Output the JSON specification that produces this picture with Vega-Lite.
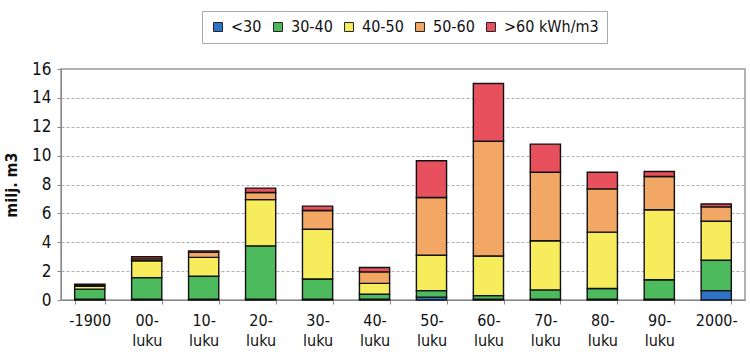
{
  "$schema": "https://vega.github.io/schema/vega-lite/v6.json",
  "autosize": {"type": "none"},
  "width": 684,
  "height": 231,
  "padding": {"left": 61, "top": 69, "right": 5, "bottom": 62},
  "background": "white",
  "config": {
    "font": "DejaVu Sans Condensed",
    "view": {"stroke": "#999999", "strokeWidth": 1.5}
  },
  "data": {
    "values": [
      {"c": "-1900", "k": 0, "cls": "<30", "v": 0.05},
      {"c": "-1900", "k": 1, "cls": "30-40", "v": 0.7},
      {"c": "-1900", "k": 2, "cls": "40-50", "v": 0.2},
      {"c": "-1900", "k": 3, "cls": "50-60", "v": 0.1},
      {"c": "-1900", "k": 4, "cls": ">60 kWh/m3", "v": 0.05},
      {"c": "00-\nluku", "k": 0, "cls": "<30", "v": 0.05},
      {"c": "00-\nluku", "k": 1, "cls": "30-40", "v": 1.5},
      {"c": "00-\nluku", "k": 2, "cls": "40-50", "v": 1.17},
      {"c": "00-\nluku", "k": 3, "cls": "50-60", "v": 0.13},
      {"c": "00-\nluku", "k": 4, "cls": ">60 kWh/m3", "v": 0.15},
      {"c": "10-\nluku", "k": 0, "cls": "<30", "v": 0.05},
      {"c": "10-\nluku", "k": 1, "cls": "30-40", "v": 1.6},
      {"c": "10-\nluku", "k": 2, "cls": "40-50", "v": 1.3},
      {"c": "10-\nluku", "k": 3, "cls": "50-60", "v": 0.35},
      {"c": "10-\nluku", "k": 4, "cls": ">60 kWh/m3", "v": 0.1},
      {"c": "20-\nluku", "k": 0, "cls": "<30", "v": 0.05},
      {"c": "20-\nluku", "k": 1, "cls": "30-40", "v": 3.7},
      {"c": "20-\nluku", "k": 2, "cls": "40-50", "v": 3.2},
      {"c": "20-\nluku", "k": 3, "cls": "50-60", "v": 0.5},
      {"c": "20-\nluku", "k": 4, "cls": ">60 kWh/m3", "v": 0.3},
      {"c": "30-\nluku", "k": 0, "cls": "<30", "v": 0.05},
      {"c": "30-\nluku", "k": 1, "cls": "30-40", "v": 1.4},
      {"c": "30-\nluku", "k": 2, "cls": "40-50", "v": 3.45},
      {"c": "30-\nluku", "k": 3, "cls": "50-60", "v": 1.3},
      {"c": "30-\nluku", "k": 4, "cls": ">60 kWh/m3", "v": 0.3},
      {"c": "40-\nluku", "k": 0, "cls": "<30", "v": 0.05},
      {"c": "40-\nluku", "k": 1, "cls": "30-40", "v": 0.35},
      {"c": "40-\nluku", "k": 2, "cls": "40-50", "v": 0.75},
      {"c": "40-\nluku", "k": 3, "cls": "50-60", "v": 0.8},
      {"c": "40-\nluku", "k": 4, "cls": ">60 kWh/m3", "v": 0.3},
      {"c": "50-\nluku", "k": 0, "cls": "<30", "v": 0.2},
      {"c": "50-\nluku", "k": 1, "cls": "30-40", "v": 0.45},
      {"c": "50-\nluku", "k": 2, "cls": "40-50", "v": 2.45},
      {"c": "50-\nluku", "k": 3, "cls": "50-60", "v": 4.0},
      {"c": "50-\nluku", "k": 4, "cls": ">60 kWh/m3", "v": 2.55},
      {"c": "60-\nluku", "k": 0, "cls": "<30", "v": 0.05},
      {"c": "60-\nluku", "k": 1, "cls": "30-40", "v": 0.25},
      {"c": "60-\nluku", "k": 2, "cls": "40-50", "v": 2.75},
      {"c": "60-\nluku", "k": 3, "cls": "50-60", "v": 7.95},
      {"c": "60-\nluku", "k": 4, "cls": ">60 kWh/m3", "v": 4.0},
      {"c": "70-\nluku", "k": 0, "cls": "<30", "v": 0.05},
      {"c": "70-\nluku", "k": 1, "cls": "30-40", "v": 0.65},
      {"c": "70-\nluku", "k": 2, "cls": "40-50", "v": 3.4},
      {"c": "70-\nluku", "k": 3, "cls": "50-60", "v": 4.75},
      {"c": "70-\nluku", "k": 4, "cls": ">60 kWh/m3", "v": 1.95},
      {"c": "80-\nluku", "k": 0, "cls": "<30", "v": 0.05},
      {"c": "80-\nluku", "k": 1, "cls": "30-40", "v": 0.75},
      {"c": "80-\nluku", "k": 2, "cls": "40-50", "v": 3.9},
      {"c": "80-\nluku", "k": 3, "cls": "50-60", "v": 3.0},
      {"c": "80-\nluku", "k": 4, "cls": ">60 kWh/m3", "v": 1.15},
      {"c": "90-\nluku", "k": 0, "cls": "<30", "v": 0.05},
      {"c": "90-\nluku", "k": 1, "cls": "30-40", "v": 1.35},
      {"c": "90-\nluku", "k": 2, "cls": "40-50", "v": 4.85},
      {"c": "90-\nluku", "k": 3, "cls": "50-60", "v": 2.3},
      {"c": "90-\nluku", "k": 4, "cls": ">60 kWh/m3", "v": 0.35},
      {"c": "2000-", "k": 0, "cls": "<30", "v": 0.65},
      {"c": "2000-", "k": 1, "cls": "30-40", "v": 2.1},
      {"c": "2000-", "k": 2, "cls": "40-50", "v": 2.7},
      {"c": "2000-", "k": 3, "cls": "50-60", "v": 1.0},
      {"c": "2000-", "k": 4, "cls": ">60 kWh/m3", "v": 0.2}
    ]
  },
  "mark": {"type": "bar", "stroke": "#111111", "strokeWidth": 1.4},
  "encoding": {
    "x": {
      "field": "c",
      "type": "nominal",
      "sort": null,
      "scale": {"paddingInner": 0.47, "paddingOuter": 0.24},
      "axis": {
        "title": null,
        "labelAngle": 0,
        "labelExpr": "split(datum.label, '\\n')",
        "labelFontSize": 16,
        "labelColor": "#111111",
        "labelPadding": 8,
        "labelLineHeight": 20,
        "tickBand": "extent",
        "tickSize": 4,
        "tickColor": "#888888",
        "domainColor": "#888888",
        "labelBaseline": "top"
      }
    },
    "y": {
      "field": "v",
      "type": "quantitative",
      "stack": "zero",
      "scale": {"domain": [0, 16]},
      "axis": {
        "title": "milj. m3",
        "titleFontSize": 16,
        "titleFontWeight": "bold",
        "titleColor": "#111111",
        "titlePadding": 12,
        "values": [0, 2, 4, 6, 8, 10, 12, 14, 16],
        "labelFontSize": 17,
        "labelColor": "#111111",
        "labelPadding": 6,
        "tickSize": 4,
        "tickColor": "#888888",
        "domainColor": "#888888",
        "gridColor": "#b0b0b0",
        "gridDash": [3, 2],
        "gridWidth": 1
      }
    },
    "color": {
      "field": "cls",
      "type": "nominal",
      "sort": ["<30", "30-40", "40-50", "50-60", ">60 kWh/m3"],
      "scale": {
        "domain": ["<30", "30-40", "40-50", "50-60", ">60 kWh/m3"],
        "range": ["#2f74c8", "#4dba5e", "#f7ec5b", "#f2a764", "#e8505d"]
      },
      "legend": {
        "title": null,
        "orient": "none",
        "direction": "horizontal",
        "columns": 5,
        "legendX": 141,
        "legendY": -58,
        "strokeColor": "#aaaaaa",
        "padding": 8,
        "symbolType": "square",
        "symbolSize": 80,
        "symbolStrokeColor": "#222222",
        "symbolStrokeWidth": 1,
        "labelFontSize": 16,
        "labelColor": "#111111",
        "labelOffset": 5,
        "columnPadding": 8
      }
    },
    "order": {"field": "k", "type": "quantitative"}
  }
}
